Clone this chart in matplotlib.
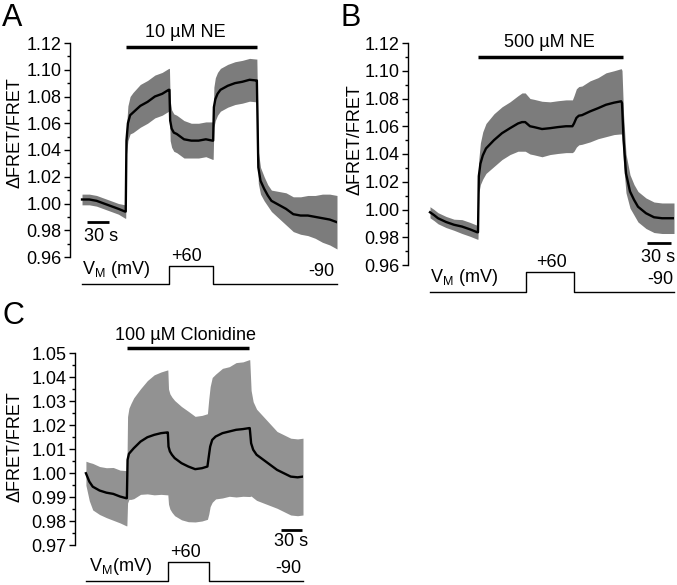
import matplotlib
matplotlib.use("Agg")
import matplotlib.pyplot as plt
from matplotlib.ticker import MultipleLocator
import numpy as np

plt.rcParams['font.family'] = ['Liberation Sans', 'DejaVu Sans']
plt.rcParams['mathtext.fontset'] = 'custom'
plt.rcParams['mathtext.rm'] = 'Liberation Sans'

# ---- panel A: 10 uM NE ----
t_a = [0, 10, 20, 30, 40, 50, 59, 60, 61, 63, 66, 70, 80, 90, 100, 110, 119, 120,
       121, 123, 126, 130, 140, 150, 160, 170, 179, 180, 181, 183, 186, 190, 200,
       210, 220, 230, 239, 240, 242, 245, 250, 255, 260, 270, 280, 290, 300, 310,
       320, 330, 340, 350]
mean_a = [1.003, 1.003, 1.002, 1.000, 0.998, 0.996, 0.994, 0.994, 1.047, 1.060,
          1.066, 1.068, 1.073, 1.076, 1.080, 1.082, 1.085, 1.085, 1.062, 1.056,
          1.053, 1.052, 1.048, 1.047, 1.047, 1.048, 1.047, 1.047, 1.072, 1.078,
          1.082, 1.085, 1.088, 1.090, 1.091, 1.0925, 1.092, 1.092, 1.027, 1.017,
          1.011, 1.006, 1.002, 0.999, 0.996, 0.992, 0.991, 0.991, 0.990, 0.989,
          0.988, 0.986]
err_a = [0.004, 0.004, 0.004, 0.004, 0.004, 0.004, 0.005, 0.005, 0.010, 0.013,
         0.014, 0.015, 0.016, 0.016, 0.016, 0.016, 0.016, 0.016, 0.015, 0.014,
         0.014, 0.014, 0.014, 0.013, 0.013, 0.013, 0.014, 0.014, 0.015, 0.016,
         0.016, 0.016, 0.016, 0.016, 0.016, 0.016, 0.016, 0.016, 0.012, 0.010,
         0.009, 0.008, 0.008, 0.010, 0.012, 0.013, 0.014, 0.015, 0.016, 0.018,
         0.019, 0.020]

# ---- panel B: 500 uM NE ----
t_b = [0, 5, 10, 20, 30, 40, 50, 59, 60, 61, 63, 66, 70, 80, 90, 100, 110, 115,
       119, 125, 130, 140, 150, 160, 170, 178, 180, 183, 186, 190, 200, 210, 220,
       230, 239, 240, 242, 245, 250, 255, 260, 270, 280, 290, 300, 305]
mean_b = [0.998, 0.996, 0.9937, 0.991, 0.989, 0.9877, 0.9857, 0.9836, 0.9836,
          1.024, 1.033, 1.039, 1.044, 1.050, 1.055, 1.0586, 1.062, 1.063, 1.063,
          1.060, 1.0594, 1.058, 1.0586, 1.0594, 1.060, 1.060, 1.062, 1.066,
          1.0676, 1.068, 1.0707, 1.073, 1.0755, 1.077, 1.078, 1.0767, 1.050,
          1.026, 1.013, 1.007, 1.002, 0.9973, 0.9944, 0.9937, 0.9937, 0.9937]
err_b = [0.004, 0.004, 0.004, 0.004, 0.004, 0.005, 0.005, 0.005, 0.005, 0.012,
         0.015, 0.017, 0.018, 0.019, 0.019, 0.019, 0.020, 0.021, 0.021, 0.020,
         0.020, 0.020, 0.019, 0.019, 0.019, 0.019, 0.020, 0.021, 0.021, 0.021,
         0.022, 0.022, 0.023, 0.023, 0.0235, 0.0235, 0.018, 0.014, 0.012, 0.011,
         0.011, 0.011, 0.011, 0.011, 0.011, 0.011]

# ---- panel C: 100 uM clonidine ----
t_c = [0, 5, 10, 20, 30, 40, 50, 59, 60, 61, 63, 66, 70, 80, 90, 100, 110, 119,
       120, 121, 123, 126, 130, 140, 150, 160, 170, 178, 180, 182, 185, 190, 200,
       210, 220, 230, 239, 240, 242, 245, 250, 260, 270, 280, 290, 300, 310, 318]
mean_c = [0.9999, 0.9964, 0.9943, 0.9927, 0.9918, 0.9913, 0.9902, 0.9895, 0.9895,
          1.0055, 1.008, 1.009, 1.0103, 1.0131, 1.0149, 1.0159, 1.0166, 1.0169,
          1.0169, 1.011, 1.009, 1.0076, 1.0062, 1.0041, 1.0027, 1.0016, 1.002,
          1.0027, 1.0069, 1.011, 1.0138, 1.0152, 1.0166, 1.0173, 1.018, 1.0183,
          1.0187, 1.0187, 1.0124, 1.0097, 1.0076, 1.0055, 1.0034, 1.0013, 0.9999,
          0.9985, 0.9982, 0.9985]
err_c = [0.005, 0.008, 0.0097, 0.010, 0.0104, 0.011, 0.011, 0.0115, 0.0115, 0.018,
         0.019, 0.020, 0.021, 0.022, 0.0236, 0.025, 0.0255, 0.026, 0.026, 0.024,
         0.024, 0.024, 0.024, 0.0236, 0.023, 0.022, 0.022, 0.022, 0.024, 0.025,
         0.026, 0.026, 0.027, 0.027, 0.028, 0.028, 0.0285, 0.0285, 0.022, 0.020,
         0.019, 0.018, 0.017, 0.016, 0.016, 0.016, 0.016, 0.016]

# voltage protocol (mV)
prot_v = [-90, -90, 60, 60, -90, -90]

W, H = 677, 585
FS = 13
fig = plt.figure(figsize=(W / 100, H / 100), dpi=100)


def box(x0, x1, y0, y1):
    # pixel box -> figure fraction
    return [x0 / W, 1 - y1 / H, (x1 - x0) / W, (y1 - y0) / H]


def panel(main_box, prot_box, xlim, ylim, major, t, mean, err, band,
          drug, drug_x, drug_y, lab_y, lab_x, scale, prot_texts, vm_label):
    ax = fig.add_axes(box(*main_box))
    ax.fill_between(t, np.array(mean) - np.array(err), np.array(mean) + np.array(err),
                    color=band, lw=0)
    ax.plot(t, mean, color='black', lw=1.7)
    ax.set_xlim(*xlim)
    ax.set_ylim(*ylim)
    for s in ['top', 'right', 'bottom']:
        ax.spines[s].set_visible(False)
    ax.spines['left'].set_linewidth(1)
    ax.set_xticks([])
    ax.yaxis.set_minor_locator(MultipleLocator(major / 2))
    ax.set_yticks(np.round(np.arange(ylim[0], ylim[1] + major / 2, major), 3))
    ax.set_yticklabels([f"{v:.2f}" for v in ax.get_yticks()])
    ax.tick_params(axis='y', which='major', direction='out', length=4, width=1,
                   labelsize=FS, pad=2)
    ax.tick_params(axis='y', which='minor', direction='out', length=2, width=1)
    # drug bar
    ax.plot(drug_x, [drug_y, drug_y], color='black', lw=2.5, clip_on=False,
            solid_capstyle='butt')
    ax.text(lab_x, lab_y, drug, ha='center', va='center', fontsize=FS)
    # scale bar
    (sx0, sx1, sy, tx, ty) = scale
    ax.plot([sx0, sx1], [sy, sy], color='black', lw=2, clip_on=False,
            solid_capstyle='butt')
    ax.text(tx, ty, '30 s', ha='center', va='center', fontsize=FS)

    # voltage protocol
    pa = fig.add_axes(box(*prot_box))
    T = t[-1]
    pa.plot([0, 120, 120, 180, 180, T], prot_v, color='black', lw=1, clip_on=False)
    pa.set_xlim(*xlim)
    pa.set_ylim(-90, 60)
    pa.axis('off')
    (vx, px_, rx) = prot_texts
    pa.annotate(vm_label, xy=(vx, -90), xytext=(0, 3), textcoords='offset points',
                ha='left', va='bottom', fontsize=FS)
    pa.annotate('+60', xy=(px_, 60), xytext=(0, 1), textcoords='offset points',
                ha='center', va='bottom', fontsize=FS)
    pa.annotate('-90', xy=(rx, -90), xytext=(0, 3), textcoords='offset points',
                ha='right', va='bottom', fontsize=FS)
    return ax


vm = r'V$_{\mathregular{M}}$ (mV)'
vm_c = r'V$_{\mathregular{M}}$(mV)'

panel((70, 337, 43, 257), (70, 337, 266, 284), (-16.5, 350), (0.96, 1.12), 0.02,
      t_a, mean_a, err_a, '#7c7c7c', '10 µM NE', [60, 240], 1.117, 1.128, 142,
      (7, 37, 0.9863, 26, 0.975), (0, 144, 346), vm)
panel((408, 674, 43, 265), (408, 674, 272, 292), (-27.5, 305), (0.96, 1.12), 0.02,
      t_b, mean_b, err_b, '#7c7c7c', '500 µM NE', [60, 241], 1.1097, 1.1205, 149,
      (271, 301, 0.976, 285, 0.9657), (0, 152, 304), vm)
panel((75, 303, 353, 545), (75, 303, 562, 581), (-16, 318), (0.97, 1.05), 0.01,
      t_c, mean_c, err_c, '#929292', '100 µM Clonidine', [60.5, 239], 1.052, 1.0573, 146,
      (285.5, 316, 0.9763, 300, 0.9713), (5, 146, 316), vm_c)

# axis labels and panel letters
for (x, y) in [(15, 133), (355, 140), (15, 447)]:
    fig.text(x / W, 1 - y / H, 'ΔFRET/FRET', rotation=90, ha='center', va='center',
             fontsize=13)
fig.text(2 / W, 1 - 3 / H, 'A', fontsize=22, ha='left', va='top')
fig.text(340 / W, 1 - 3 / H, 'B', fontsize=22, ha='left', va='top')
fig.text(3 / W, 1 - 301 / H, 'C', fontsize=22, ha='left', va='top')

fig.savefig('out.png', dpi=100)
